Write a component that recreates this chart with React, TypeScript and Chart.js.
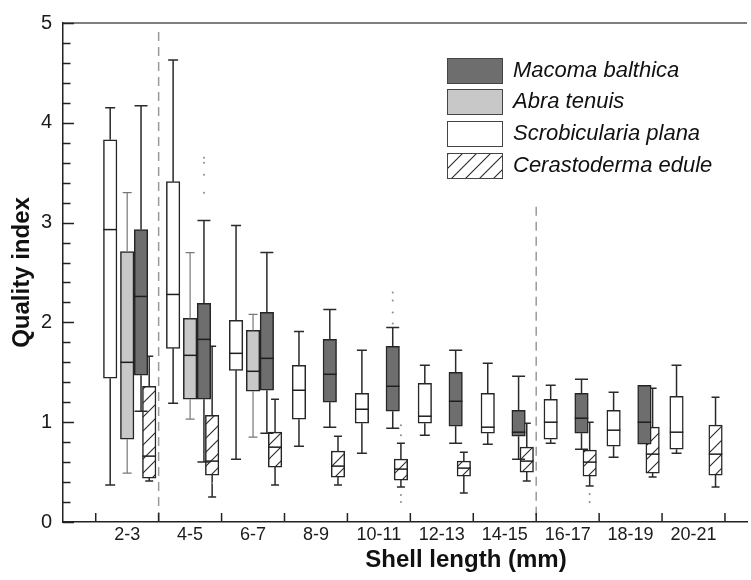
import React, { useEffect, useRef } from 'react';
import { Chart, registerables } from 'chart.js';

Chart.register(...registerables);

const FONT = "'Liberation Sans', Arial, sans-serif";

const categories = ['2-3', '4-5', '6-7', '8-9', '10-11', '12-13', '14-15', '16-17', '18-19', '20-21'];
const yTickValues = [0, 1, 2, 3, 4, 5];
const speciesNames = ['Macoma balthica', 'Abra tenuis', 'Scrobicularia plana', 'Cerastoderma edule'];

// [min, q1, median, q3, max] per shell-length class
const scrobicularia = [
  [0.37, 1.44, 2.93, 3.83, 4.15],
  [1.19, 1.74, 2.28, 3.41, 4.63],
  [0.63, 1.52, 1.69, 2.02, 2.97],
  [0.76, 1.03, 1.32, 1.57, 1.91],
  [0.69, 0.99, 1.13, 1.29, 1.72],
  [0.87, 0.99, 1.06, 1.39, 1.57],
  [0.78, 0.89, 0.95, 1.29, 1.59],
  [0.79, 0.83, 1.0, 1.23, 1.37],
  [0.65, 0.76, 0.92, 1.12, 1.3],
  [0.69, 0.73, 0.9, 1.26, 1.57],
];
const abra = [
  [0.49, 0.83, 1.6, 2.71, 3.3],
  [1.03, 1.23, 1.67, 2.04, 2.7],
  [0.85, 1.31, 1.51, 1.92, 2.08],
  null, null, null, null, null, null, null,
];
const macoma = [
  [1.11, 1.47, 2.26, 2.93, 4.17],
  [0.6, 1.23, 1.83, 2.19, 3.02],
  [0.89, 1.32, 1.64, 2.1, 2.7],
  [0.95, 1.2, 1.48, 1.83, 2.13],
  [0.94, 1.11, 1.36, 1.76, 1.95],
  [0.79, 0.96, 1.21, 1.5, 1.72],
  [0.63, 0.86, 0.9, 1.12, 1.46],
  [0.73, 0.89, 1.04, 1.29, 1.43],
  [0.78, 0.78, 1.0, 1.37, 1.37],
  null,
];
const cerastoderma = [
  [0.41, 0.44, 0.66, 1.36, 1.66],
  [0.25, 0.47, 0.61, 1.07, 1.76],
  [0.37, 0.55, 0.75, 0.9, 1.23],
  [0.37, 0.45, 0.56, 0.71, 0.86],
  [0.35, 0.42, 0.53, 0.63, 0.79],
  [0.29, 0.46, 0.54, 0.61, 0.7],
  [0.41, 0.5, 0.61, 0.75, 0.99],
  [0.36, 0.46, 0.6, 0.72, 1.0],
  [0.45, 0.49, 0.68, 0.95, 1.34],
  [0.35, 0.47, 0.68, 0.97, 1.25],
];

// outliers per class
const macomaOutliers = [[], [3.65, 3.6, 3.48, 3.3], [], [], [2.3, 2.22, 2.1, 1.99], [], [], [], [], []];
const cerastodermaOutliers = [[], [0.39], [], [], [0.97, 0.87, 0.27, 0.2], [], [], [0.28, 0.2], [], []];

// position of each species inside a class (in class units)
const offsets = { scrob: -0.27, abra: 0, macoma: 0.22, cerast: 0.35 };

function makeHatch(): CanvasPattern | string {
  const s = 14;
  const c = document.createElement('canvas');
  c.width = s;
  c.height = s;
  const p = c.getContext('2d');
  if (!p) return '#fff';
  p.fillStyle = '#ffffff';
  p.fillRect(0, 0, s, s);
  p.strokeStyle = '#2a2a2a';
  p.lineWidth = 1.1;
  p.beginPath();
  p.moveTo(0, s);
  p.lineTo(s, 0);
  p.moveTo(-s / 2, s / 2);
  p.lineTo(s / 2, -s / 2);
  p.moveTo(s / 2, s * 1.5);
  p.lineTo(s * 1.5, s / 2);
  p.stroke();
  const pat = p.createPattern(c, 'repeat');
  return pat || '#fff';
}

export default function App() {
  const ref = useRef<HTMLCanvasElement | null>(null);

  useEffect(() => {
    const canvas = ref.current;
    if (!canvas) return;
    const hatch = makeHatch();

    const series = [
      { key: 'scrob', name: speciesNames[2], stats: scrobicularia, fill: '#ffffff', whisker: '#2a2a2a', whiskerW: 1.5, cap: 10, offset: offsets.scrob },
      { key: 'abra', name: speciesNames[1], stats: abra, fill: '#c8c8c8', whisker: '#777777', whiskerW: 1.2, cap: 9, offset: offsets.abra },
      { key: 'cerast', name: speciesNames[3], stats: cerastoderma, fill: hatch, whisker: '#2a2a2a', whiskerW: 1.5, cap: 8, offset: offsets.cerast },
      { key: 'macoma', name: speciesNames[0], stats: macoma, fill: '#6e6e6e', whisker: '#2a2a2a', whiskerW: 1.5, cap: 13, offset: offsets.macoma },
    ];
    const BOX_W = 13.5;

    const barDatasets = series.map((s, si) => ({
      type: 'bar' as const,
      label: s.name,
      data: s.stats
        .map((st, i) => (st ? { x: i + 1 + s.offset, y: [st[1], st[3]] } : null))
        .filter((d) => d !== null),
      backgroundColor: s.fill,
      borderColor: '#262626',
      borderWidth: 1.5,
      borderSkipped: false,
      barThickness: BOX_W,
      grouped: false,
      order: series.length - si,
    }));

    const outlierPoints: { x: number; y: number }[] = [];
    macomaOutliers.forEach((arr, i) => arr.forEach((v) => outlierPoints.push({ x: i + 1 + offsets.macoma, y: v })));
    cerastodermaOutliers.forEach((arr, i) => arr.forEach((v) => outlierPoints.push({ x: i + 1 + offsets.cerast, y: v })));

    const scatterDataset = {
      type: 'scatter' as const,
      label: 'outliers',
      data: outlierPoints,
      pointRadius: 1,
      pointBackgroundColor: '#8a8a8a',
      pointBorderWidth: 0,
      order: 0,
    };

    const extras = {
      id: 'boxExtras',
      beforeDatasetsDraw(chart: any) {
        const ctx = chart.ctx;
        const xs = chart.scales.x;
        const ys = chart.scales.y;
        ctx.save();
        ctx.strokeStyle = '#9a9a9a';
        ctx.lineWidth = 1.5;
        ctx.setLineDash([9, 6]);
        const dashes = [
          { x: 1.5, top: 4.91 },
          { x: 7.5, top: 3.16 },
        ];
        dashes.forEach((d) => {
          const px = xs.getPixelForValue(d.x);
          ctx.beginPath();
          ctx.moveTo(px, ys.getPixelForValue(d.top));
          ctx.lineTo(px, ys.getPixelForValue(0));
          ctx.stroke();
        });
        ctx.restore();
      },
      afterDatasetDraw(chart: any, args: any) {
        const ds = chart.data.datasets[args.index];
        const s = series.find((q) => q.name === ds.label);
        if (!s) return;
        const ctx = chart.ctx;
        const xs = chart.scales.x;
        const ys = chart.scales.y;
        ctx.save();
        s.stats.forEach((st, i) => {
          if (!st) return;
          const [mn, q1, md, q3, mx] = st;
          const cx = xs.getPixelForValue(i + 1 + s.offset);
          ctx.strokeStyle = s.whisker;
          ctx.lineWidth = s.whiskerW;
          ctx.beginPath();
          if (mx > q3) {
            ctx.moveTo(cx, ys.getPixelForValue(q3));
            ctx.lineTo(cx, ys.getPixelForValue(mx));
            ctx.moveTo(cx - s.cap / 2, ys.getPixelForValue(mx));
            ctx.lineTo(cx + s.cap / 2, ys.getPixelForValue(mx));
          }
          if (mn < q1) {
            ctx.moveTo(cx, ys.getPixelForValue(q1));
            ctx.lineTo(cx, ys.getPixelForValue(mn));
            ctx.moveTo(cx - s.cap / 2, ys.getPixelForValue(mn));
            ctx.lineTo(cx + s.cap / 2, ys.getPixelForValue(mn));
          }
          ctx.stroke();
          ctx.strokeStyle = '#1e1e1e';
          ctx.lineWidth = 1.5;
          ctx.beginPath();
          ctx.moveTo(cx - BOX_W / 2, ys.getPixelForValue(md));
          ctx.lineTo(cx + BOX_W / 2, ys.getPixelForValue(md));
          ctx.stroke();
        });
        ctx.restore();
      },
      afterDraw(chart: any) {
        const ctx = chart.ctx;
        const xs = chart.scales.x;
        const ys = chart.scales.y;
        const area = chart.chartArea;
        ctx.save();
        // top frame line
        ctx.strokeStyle = '#555';
        ctx.lineWidth = 1.5;
        ctx.beginPath();
        ctx.moveTo(area.left, area.top);
        ctx.lineTo(area.right, area.top);
        ctx.stroke();
        // inward y ticks
        ctx.strokeStyle = '#222';
        ctx.lineWidth = 1.5;
        ctx.beginPath();
        for (let k = 0; k <= 25; k++) {
          const v = k / 5;
          const py = Math.round(ys.getPixelForValue(v)) + 0.5;
          const len = k % 5 === 0 ? 11 : 7.5;
          ctx.moveTo(area.left, py);
          ctx.lineTo(area.left + len, py);
        }
        // inward x ticks at class boundaries
        for (let k = 0; k <= categories.length; k++) {
          const px = xs.getPixelForValue(k + 0.5);
          ctx.moveTo(px, area.bottom);
          ctx.lineTo(px, area.bottom - 9);
        }
        ctx.stroke();

        // legend
        const legendItems = [
          { name: speciesNames[0], fill: '#6e6e6e' },
          { name: speciesNames[1], fill: '#c8c8c8' },
          { name: speciesNames[2], fill: '#ffffff' },
          { name: speciesNames[3], fill: hatch },
        ];
        const lx = 447;
        const rowTops = [58, 89, 121, 153];
        ctx.font = `italic 22px ${FONT}`;
        ctx.textBaseline = 'middle';
        ctx.textAlign = 'left';
        legendItems.forEach((it, i) => {
          const top = rowTops[i];
          ctx.fillStyle = it.fill as any;
          ctx.fillRect(lx, top, 55, 25);
          ctx.strokeStyle = '#444';
          ctx.lineWidth = 1;
          ctx.strokeRect(lx + 0.5, top + 0.5, 55, 25);
          ctx.fillStyle = '#111';
          ctx.fillText(it.name, 513, top + 13);
        });

        // axis titles
        ctx.fillStyle = '#111';
        ctx.font = `bold 24px ${FONT}`;
        ctx.textAlign = 'center';
        ctx.textBaseline = 'middle';
        ctx.fillText('Shell length (mm)', 466, 560);
        ctx.translate(22, (area.top + area.bottom) / 2);
        ctx.rotate(-Math.PI / 2);
        ctx.fillText('Quality index', 0, 0);
        ctx.restore();
      },
    };

    const chart = new Chart(canvas, {
      type: 'bar',
      data: { datasets: [...barDatasets, scatterDataset] as any },
      options: {
        animation: false,
        responsive: false,
        maintainAspectRatio: false,
        layout: { padding: { top: 21, left: 0, right: 0, bottom: 0 } },
        plugins: { legend: { display: false }, tooltip: { enabled: false }, title: { display: false } },
        scales: {
          x: {
            type: 'linear',
            offset: false,
            min: -0.02,
            max: 10.85,
            grid: { display: false, drawTicks: false, offset: false },
            border: { display: true, color: '#222', width: 1.5 },
            ticks: {
              padding: 2,
              color: '#1a1a1a',
              font: { size: 18, family: FONT },
              callback: (v: any) => categories[Math.round(Number(v)) - 1] ?? '',
            },
            afterBuildTicks: (s: any) => {
              s.ticks = categories.map((_, i) => ({ value: i + 1 }));
            },
            afterFit: (s: any) => {
              s.height = 58;
            },
          },
          y: {
            min: 0,
            max: 5,
            grid: { display: false, drawTicks: false },
            border: { display: true, color: '#222', width: 1.5 },
            ticks: {
              padding: 11,
              color: '#1a1a1a',
              font: { size: 20, family: FONT },
              callback: (v: any) => String(v),
            },
            afterBuildTicks: (s: any) => {
              s.ticks = yTickValues.map((v) => ({ value: v }));
            },
            afterFit: (s: any) => {
              s.width = 63;
            },
          },
        },
      } as any,
      plugins: [extras],
    });

    return () => chart.destroy();
  }, []);

  return (
    <div style={{ position: 'fixed', left: 0, top: 0, width: 751, height: 580, background: '#fff' }}>
      <canvas ref={ref} width={751} height={580} style={{ display: 'block', width: 751, height: 580 }} />
    </div>
  );
}
